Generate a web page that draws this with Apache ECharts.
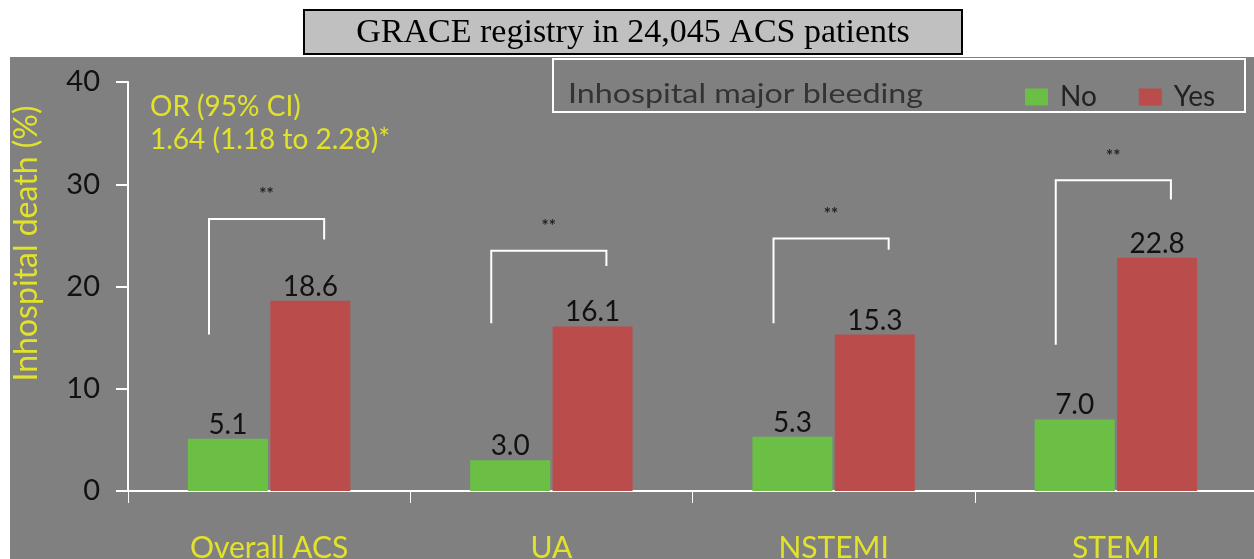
<!DOCTYPE html>
<html>
<head>
<meta charset="utf-8">
<script src="https://cdn.jsdelivr.net/npm/echarts@6/dist/echarts.min.js"></script>
<style>
  html, body { margin: 0; padding: 0; background: #fff; }
  #chart { width: 1254px; height: 559px; }
</style>
</head>
<body>
<div id="chart"></div>
<script>
// 数据
const categories = ['Overall ACS', 'UA', 'NSTEMI', 'STEMI']
const noBleeding = [5.1, 3.0, 5.3, 7.0]
const yesBleeding = [18.6, 16.1, 15.3, 22.8]
// significance brackets: left foot, top, right foot (y units)
const bracketLeft = [15.3, 16.4, 16.4, 14.3]
const bracketTop = [26.6, 23.5, 24.7, 30.4]
const bracketRight = [24.6, 22.0, 23.6, 28.5]
const bracketMark = ['**', '**', '**', '**']

const yellow = '#e2e22c'
const font = 'Lato, "Open Sans", sans-serif'

const chart = echarts.init(document.getElementById('chart'))

const bracketData = categories.map((c, i) => [i, bracketLeft[i], bracketTop[i], bracketRight[i], bracketMark[i]])

chart.setOption({
  animation: false,
  backgroundColor: '#ffffff',
  graphic: [
    // gray plot background
    { type: 'rect', z: -10, shape: { x: 10, y: 57, width: 1244, height: 502 }, style: { fill: '#808080' } },
    // title box
    { type: 'rect', shape: { x: 304, y: 10, width: 658, height: 44 }, style: { fill: '#c0c0c0', stroke: '#000', lineWidth: 2 } },
    { type: 'text', x: 633, y: 33, style: { text: 'GRACE registry in 24,045 ACS patients', font: '34px "Liberation Serif", serif', fill: '#000', align: 'center', verticalAlign: 'middle' } },
    // legend box
    { type: 'rect', shape: { x: 553, y: 59, width: 692, height: 53 }, style: { fill: 'none', stroke: '#fff', lineWidth: 2 } },
    { type: 'text', x: 568, y: 95, scaleX: 1.24, style: { text: 'Inhospital major bleeding', font: '26px ' + font, fill: '#333', verticalAlign: 'middle' } },
    // OR text
    { type: 'text', x: 150, y: 107, style: { text: 'OR (95% CI)', font: '28px ' + font, fill: yellow, verticalAlign: 'middle' } },
    { type: 'text', x: 150, y: 140, style: { text: '1.64 (1.18 to 2.28)*', font: '28px ' + font, fill: yellow, verticalAlign: 'middle' } }
  ],
  legend: {
    left: 1020,
    top: 78,
    itemWidth: 23,
    itemHeight: 17,
    itemGap: 42,
    icon: 'rect',
    data: ['No', 'Yes'],
    textStyle: { fontFamily: font, fontSize: 28, color: '#222', padding: [16, 0, 0, 7] }
  },
  grid: { left: 128, right: -3, top: 82, bottom: 68, outerBoundsMode: 'none' },
  xAxis: {
    type: 'category',
    data: categories,
    axisLine: { lineStyle: { color: '#fff', width: 2 } },
    axisTick: { show: true, length: 12, lineStyle: { color: '#fff', width: 1 } },
    axisLabel: { color: yellow, fontFamily: font, fontSize: 30, margin: 42 }
  },
  yAxis: {
    type: 'value',
    min: 0,
    max: 40,
    interval: 10,
    name: 'Inhospital death (%)',
    nameLocation: 'middle',
    nameGap: 85,
    nameTextStyle: { color: yellow, fontFamily: font, fontSize: 32, padding: [0, 0, 0, 86] },
    axisLine: { show: true, lineStyle: { color: '#fff', width: 2 } },
    axisTick: { show: true, length: 12, lineStyle: { color: '#fff', width: 2 } },
    axisLabel: { color: '#111', fontFamily: font, fontSize: 29, margin: 28 },
    splitLine: { show: false }
  },
  series: [
    {
      name: 'No',
      type: 'bar',
      data: noBleeding,
      barWidth: 80,
      barGap: '3%',
      itemStyle: { color: '#6bbf45' },
      label: { show: true, position: 'top', distance: 0, color: '#111', fontFamily: font, fontSize: 28, formatter: p => p.value.toFixed(1) }
    },
    {
      name: 'Yes',
      type: 'bar',
      data: yesBleeding,
      barWidth: 80,
      itemStyle: { color: '#ba4d4b' },
      label: { show: true, position: 'top', distance: 0, color: '#111', fontFamily: font, fontSize: 28, formatter: p => p.value.toFixed(1) }
    },
    {
      type: 'custom',
      data: bracketData,
      silent: true,
      z: 5,
      renderItem: (params, api) => {
        const band = api.size([1, 0])[0]
        const center = api.coord([api.value(0), 0])[0]
        const xl = center - band * 0.213
        const xr = center + band * 0.195
        const yl = api.coord([api.value(0), api.value(1)])[1]
        const yt = api.coord([api.value(0), api.value(2)])[1]
        const yr = api.coord([api.value(0), api.value(3)])[1]
        return {
          type: 'group',
          children: [
            {
              type: 'polyline',
              shape: { points: [[xl, yl], [xl, yt], [xr, yt], [xr, yr]] },
              style: { stroke: '#fff', lineWidth: 2, fill: 'none' }
            },
            {
              type: 'text',
              x: (xl + xr) / 2,
              y: yt - 24,
              style: { text: api.value(4), font: 'bold 17px ' + font, fill: '#222', align: 'center', verticalAlign: 'middle' }
            }
          ]
        }
      }
    }
  ]
})
</script>
</body>
</html>
